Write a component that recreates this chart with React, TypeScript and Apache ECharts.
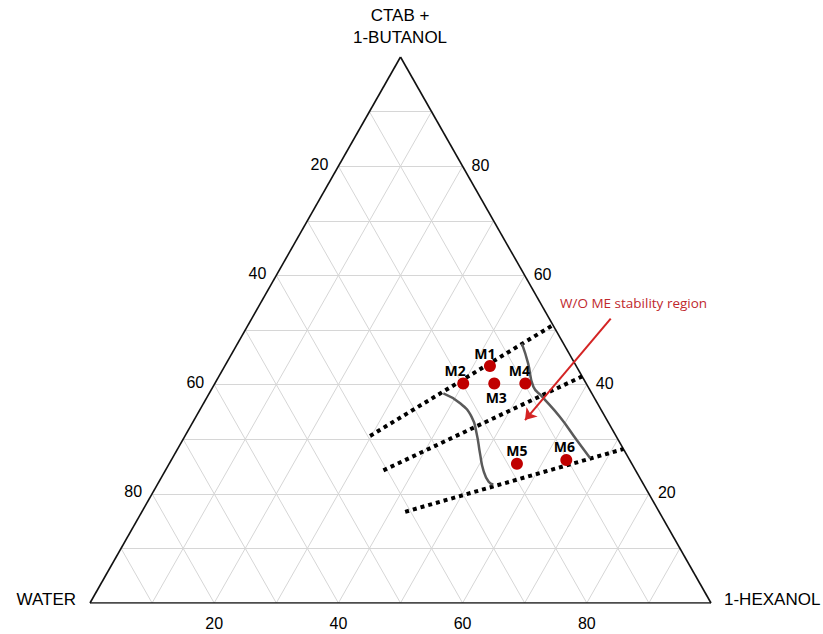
import React, { useEffect, useRef } from 'react';
import * as echarts from 'echarts';

// Ternary data: each point given as [1-HEXANOL %, CTAB + 1-BUTANOL %]; WATER = 100 - both
const tickValues = [20, 40, 60, 80];
const gridSteps = [10, 20, 30, 40, 50, 60, 70, 80, 90];

const sampleNames = ['M1', 'M2', 'M3', 'M4', 'M5', 'M6'];
const sampleHexanol = [42.7, 40.0, 45.0, 50.0, 56.0, 63.6];
const sampleSurfactant = [43.4, 40.2, 40.2, 40.2, 25.5, 26.2];

const dottedUpper = [[29.8, 30.6], [49.1, 50.9]];
const dottedMiddle = [[35.1, 24.3], [58.5, 41.5]];
const dottedLower = [[42.4, 16.7], [71.8, 28.2]];

const leftBoundary = [[37.7, 38.4], [41.3, 36.6], [44.4, 34.1], [46.7, 31.1], [49.1, 27.4], [51.2, 24.3], [53.1, 22.2], [54.1, 21.7]];
const rightBoundary = [[45.8, 47.5], [48.6, 43.9], [51.6, 39.6], [53.9, 37.8], [58.6, 34.1], [63.5, 29.8], [67.3, 26.5]];

const arrowFromTo = [[57.8, 52.1], [53.3, 33.5]];
const annotationText = 'W/O ME stability region';
const topVertexLines = ['CTAB +', '1-BUTANOL'];

// label placement (style only)
const sampleLabelPlacement = [
  { pos: 'top', dx: -5 },
  { pos: 'top', dx: -8 },
  { pos: 'bottom', dx: 2 },
  { pos: 'top', dx: -6 },
  { pos: 'top', dx: 0 },
  { pos: 'top', dx: -2 },
];

const toXY = (h: number, c: number) => [h + c / 2, c];

const ARIAL = '"Liberation Sans", Arial, sans-serif';
const CALIBRI = '"Open Sans", Lato, sans-serif';

export default function App() {
  const ref = useRef<HTMLDivElement>(null);
  useEffect(() => {
    if (!ref.current) return;
    const chart = echarts.init(ref.current, null, { renderer: 'svg' });

    const gridCoords: any[] = [];
    gridSteps.forEach((k) => {
      gridCoords.push({ coords: [toXY(0, k), toXY(100 - k, k)] });
      gridCoords.push({ coords: [toXY(k, 0), toXY(k, 100 - k)] });
      gridCoords.push({ coords: [toXY(100 - k, 0), toXY(0, 100 - k)] });
    });
    const edges = [
      { coords: [toXY(0, 0), toXY(100, 0)] },
      { coords: [toXY(100, 0), toXY(0, 100)] },
      { coords: [toXY(0, 100), toXY(0, 0)] },
    ];
    const dotted = [dottedUpper, dottedMiddle, dottedLower].map((l) => ({
      coords: l.map(([h, c]) => toXY(h, c)),
    }));

    const tickFont = { fontFamily: ARIAL, fontSize: 16, color: '#000' };
    const tickSeries = (data: any[], label: any) => ({
      type: 'scatter', symbolSize: 0, silent: true,
      itemStyle: { opacity: 1, color: '#000' },
      data,
      label: { show: true, formatter: '{b}', ...label, ...tickFont },
    });

    const option: any = {
      animation: false,
      grid: { left: 90, right: 112, top: 57, bottom: 31, containLabel: false },
      xAxis: { type: 'value', min: 0, max: 100, show: false },
      yAxis: { type: 'value', min: 0, max: 100, show: false },
      series: [
        {
          type: 'lines', coordinateSystem: 'cartesian2d', silent: true, z: 1,
          lineStyle: { color: '#d6d6d6', width: 1, opacity: 1 },
          data: gridCoords,
        },
        {
          type: 'lines', coordinateSystem: 'cartesian2d', silent: true, z: 2,
          lineStyle: { color: '#111', width: 1.6, opacity: 1 },
          data: edges,
        },
        {
          type: 'lines', coordinateSystem: 'cartesian2d', silent: true, z: 3,
          lineStyle: { color: '#000', width: 4, type: 'dotted', opacity: 1 },
          data: dotted,
        },
        {
          type: 'line', smooth: true, symbol: 'none', silent: true, z: 3,
          lineStyle: { color: '#5a5a5a', width: 2.5 },
          data: leftBoundary.map(([h, c]) => toXY(h, c)),
        },
        {
          type: 'line', smooth: true, symbol: 'none', silent: true, z: 3,
          lineStyle: { color: '#5a5a5a', width: 2.5 },
          data: rightBoundary.map(([h, c]) => toXY(h, c)),
        },
        {
          type: 'lines', coordinateSystem: 'cartesian2d', silent: true, z: 4,
          symbol: ['none', 'arrow'], symbolSize: 11,
          lineStyle: { color: '#d42424', width: 2, opacity: 1 },
          data: [{ coords: arrowFromTo.map(([h, c]) => toXY(h, c)) }],
        },
        {
          type: 'scatter', z: 5, symbolSize: 12,
          itemStyle: { color: '#c00000', opacity: 1 },
          data: sampleNames.map((n, i) => ({
            name: n,
            value: toXY(sampleHexanol[i], sampleSurfactant[i]),
            label: {
              position: sampleLabelPlacement[i].pos,
              offset: [sampleLabelPlacement[i].dx, 0],
              distance: sampleLabelPlacement[i].pos === 'top' ? 0 : 1,
            },
          })),
          label: {
            show: true, formatter: '{b}', fontFamily: CALIBRI, fontWeight: 'bold',
            fontSize: 14, color: '#000',
          },
        },
        // bottom ticks: 1-HEXANOL
        tickSeries(
          tickValues.map((v) => ({ name: String(v), value: toXY(v, 0) })),
          { position: 'bottom', distance: 12 },
        ),
        // left ticks: WATER
        tickSeries(
          tickValues.map((v) => ({ name: String(v), value: toXY(0, 100 - v) })),
          { position: 'left', distance: 10, offset: [0, -2] },
        ),
        // right ticks: CTAB + 1-BUTANOL
        tickSeries(
          tickValues.map((v) => ({ name: String(v), value: toXY(100 - v, v) })),
          { position: 'right', distance: 9, offset: [0, -1] },
        ),
      ],
      graphic: [
        ...topVertexLines.map((t, i) => ({
          type: 'text', x: 400, y: 15 + i * 22,
          style: { text: t, fontFamily: ARIAL, fontSize: 17, fill: '#000', align: 'center', verticalAlign: 'middle' },
        })),
        {
          type: 'text', x: 76, y: 599,
          style: { text: 'WATER', fontFamily: ARIAL, fontSize: 17, fill: '#000', align: 'right', verticalAlign: 'middle' },
        },
        {
          type: 'text', x: 724, y: 599,
          style: { text: '1-HEXANOL', fontFamily: ARIAL, fontSize: 17, fill: '#000', align: 'left', verticalAlign: 'middle' },
        },
        {
          type: 'text', x: 560, y: 303,
          style: { text: annotationText, fontFamily: CALIBRI, fontSize: 13.5, fill: '#c0282d', align: 'left', verticalAlign: 'middle' },
        },
      ],
    };
    chart.setOption(option);
    return () => chart.dispose();
  }, []);
  return <div ref={ref} style={{ position: 'fixed', left: 0, top: 0, width: 823, height: 634, background: '#fff' }} />;
}
